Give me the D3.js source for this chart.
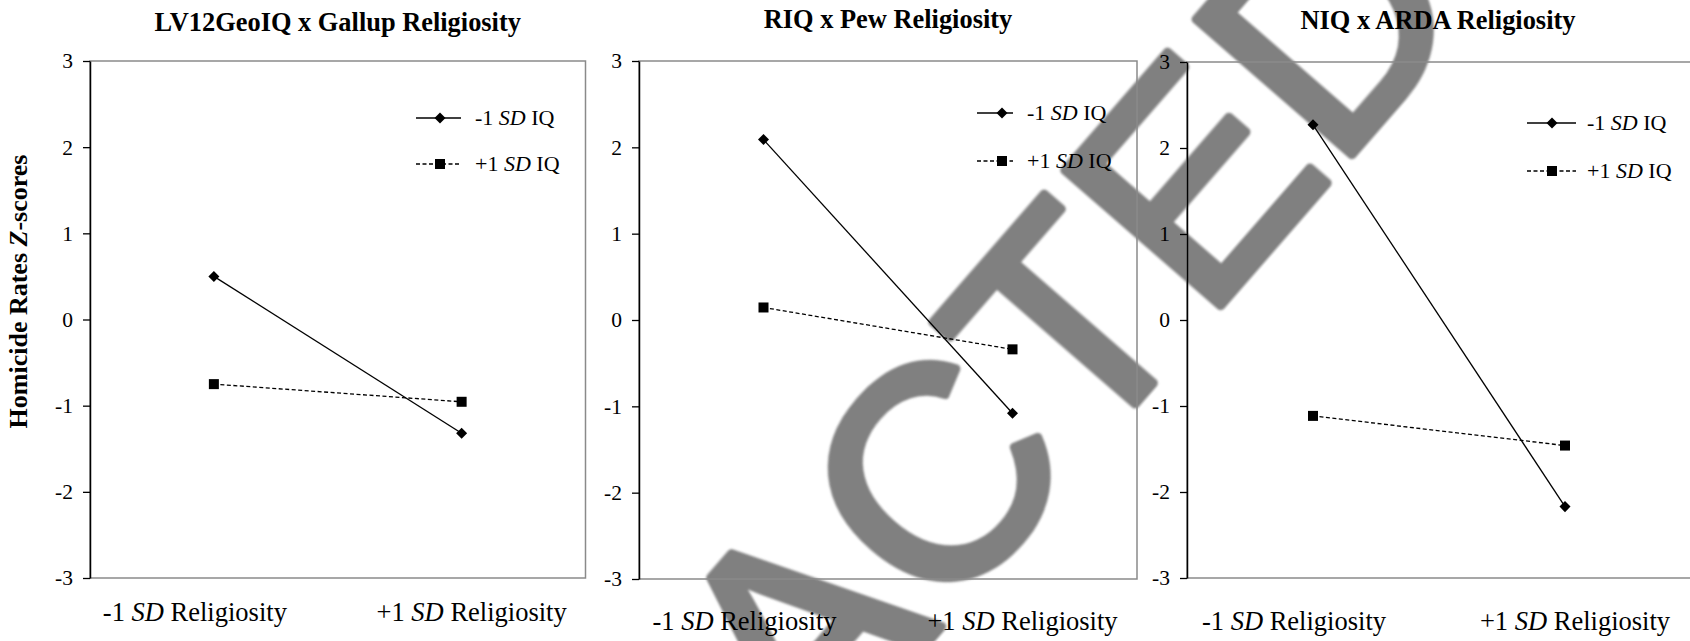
<!DOCTYPE html>
<html>
<head>
<meta charset="utf-8">
<script src="https://cdn.jsdelivr.net/npm/d3@7"></script>
<style>
  body { margin: 0; background: #fff; }
  text { font-family: "Liberation Serif", "Times New Roman", serif; fill: #000; }
</style>
</head>
<body>
<script>
var w = 1690,
    h = 641;

// data
var panelTitles = ["LV12GeoIQ x Gallup Religiosity", "RIQ x Pew Religiosity", "NIQ x ARDA Religiosity"];
var categories = ["-1 SD Religiosity", "+1 SD Religiosity"];
var seriesNames = ["-1 SD IQ", "+1 SD IQ"];
var lowIQ  = [[0.50, -1.32], [2.09, -1.08], [2.27, -2.17]];
var highIQ = [[-0.75, -0.955], [0.145, -0.34], [-1.115, -1.46]];
var yTicks = [-3, -2, -1, 0, 1, 2, 3];

// each panel was its own little picture, so they don't line up perfectly
var layout = [
  {x0: 90,   x1: 585.5, top: 61, bottom: 578, titleY: 31, catY: 621, leg: {l0: 326, l1: 371, m: 350, t: 385, y: [118, 164]}},
  {x0: 639,  x1: 1137,  top: 61, bottom: 579, titleY: 28, catY: 630, leg: {l0: 338, l1: 374, m: 363, t: 388, y: [113, 161]}},
  {x0: 1187, x1: 1691,  top: 62, bottom: 578, titleY: 29, catY: 630, leg: {l0: 340, l1: 389, m: 365, t: 400, y: [123, 171]}}
];
var labelShift = [-19, 10];

var svg = d3.select("body").append("svg")
    .attr("width", w)
    .attr("height", h);

// watermark sits under everything
var defs = svg.append("defs");
defs.append("filter").attr("id", "soft")
  .append("feGaussianBlur").attr("stdDeviation", 1.2);

var fs = 300, ang = -49;
svg.append("text")
    .attr("transform", "translate(932,474) rotate(" + ang + ")")
    .attr("x", -3.139 * fs)
    .attr("y", 0.358 * fs)
    .attr("filter", "url(#soft)")
    .style("font-family", "'Liberation Sans', Arial, sans-serif")
    .style("font-size", fs + "px")
    .style("fill", "#808080")
    .style("stroke", "#808080")
    .style("stroke-width", 9)
    .style("stroke-linejoin", "round")
    .text("REDACTED");

// y axis title
var yt = svg.append("text")
    .attr("transform", "translate(27,291.5) rotate(-90)")
    .attr("text-anchor", "middle")
    .style("font-size", "26px")
    .style("font-weight", "bold");
yt.append("tspan").text("Homicide Rates ");
yt.append("tspan").style("font-style", "italic").text("Z");
yt.append("tspan").text("-scores");

function sdText(sel, str) {
  // "-1 SD xxx" with the SD in italics
  var parts = str.split(" SD ");
  sel.append("tspan").text(parts[0] + " ");
  sel.append("tspan").style("font-style", "italic").text("SD");
  sel.append("tspan").text(" " + parts[1]);
}

function diamond(g, cx, cy) {
  g.append("path")
    .attr("d", d3.symbol().type(d3.symbolDiamond2).size(78)())
    .attr("transform", "translate(" + cx + "," + cy + ")")
    .attr("fill", "#000");
}
function square(g, cx, cy) {
  g.append("rect")
    .attr("x", cx - 5).attr("y", cy - 5)
    .attr("width", 10).attr("height", 10)
    .attr("fill", "#000");
}

layout.forEach(function(p, i) {
  var g = svg.append("g");

  var x = d3.scalePoint().domain(categories).range([p.x0, p.x1]).padding(0.5);
  var y = d3.scaleLinear().domain([-3, 3]).range([p.bottom, p.top]);

  // frame
  g.append("rect")
    .attr("x", p.x0).attr("y", p.top)
    .attr("width", p.x1 - p.x0).attr("height", p.bottom - p.top)
    .attr("fill", "none")
    .attr("stroke", "#8a8a8a")
    .attr("stroke-width", 1.5);

  var ax = g.append("g")
    .attr("transform", "translate(" + p.x0 + ",0)")
    .call(d3.axisLeft(y).tickValues(yTicks).tickSize(7).tickSizeOuter(0).tickPadding(10).tickFormat(d3.format("d")));
  ax.select(".domain").attr("stroke", "#000").attr("stroke-width", 1.5);
  ax.selectAll(".tick line").attr("stroke", "#000").attr("stroke-width", 1.3);
  ax.selectAll(".tick text")
    .style("font-family", "'Liberation Serif', 'Times New Roman', serif")
    .style("font-size", "21.5px")
    .text(function(d) { return d < 0 ? "-" + Math.abs(d) : d; });

  // title
  g.append("text")
    .attr("x", (p.x0 + Math.min(p.x1, 1689)) / 2)
    .attr("y", p.titleY)
    .attr("text-anchor", "middle")
    .style("font-size", "26.4px")
    .style("font-weight", "bold")
    .text(panelTitles[i]);

  // category labels
  categories.forEach(function(c, j) {
    var t = g.append("text")
      .attr("x", x(c) + labelShift[j])
      .attr("y", p.catY)
      .attr("text-anchor", "middle")
      .style("font-size", "26.5px");
    sdText(t, c);
  });

  // lines
  var lowPts = categories.map(function(c, j) { return [x(c), y(lowIQ[i][j])]; });
  var highPts = categories.map(function(c, j) { return [x(c), y(highIQ[i][j])]; });
  var line = d3.line();

  g.append("path").attr("d", line(highPts))
    .attr("fill", "none").attr("stroke", "#000").attr("stroke-width", 1.3)
    .attr("stroke-dasharray", "4,2.5");
  g.append("path").attr("d", line(lowPts))
    .attr("fill", "none").attr("stroke", "#000").attr("stroke-width", 1.3);

  highPts.forEach(function(pt) { square(g, pt[0], pt[1]); });
  lowPts.forEach(function(pt) { diamond(g, pt[0], pt[1]); });

  // legend
  var L = p.leg;
  seriesNames.forEach(function(s, k) {
    var ly = L.y[k];
    g.append("line")
      .attr("x1", p.x0 + L.l0).attr("x2", p.x0 + L.l1)
      .attr("y1", ly).attr("y2", ly)
      .attr("stroke", "#000").attr("stroke-width", 1.3)
      .attr("stroke-dasharray", k == 1 ? "4,2.5" : null);
    if (k == 0) diamond(g, p.x0 + L.m, ly);
    else square(g, p.x0 + L.m, ly);
    var t = g.append("text")
      .attr("x", p.x0 + L.t)
      .attr("y", ly + 7)
      .style("font-size", "22px");
    sdText(t, s);
  });
});
</script>
</body>
</html>
